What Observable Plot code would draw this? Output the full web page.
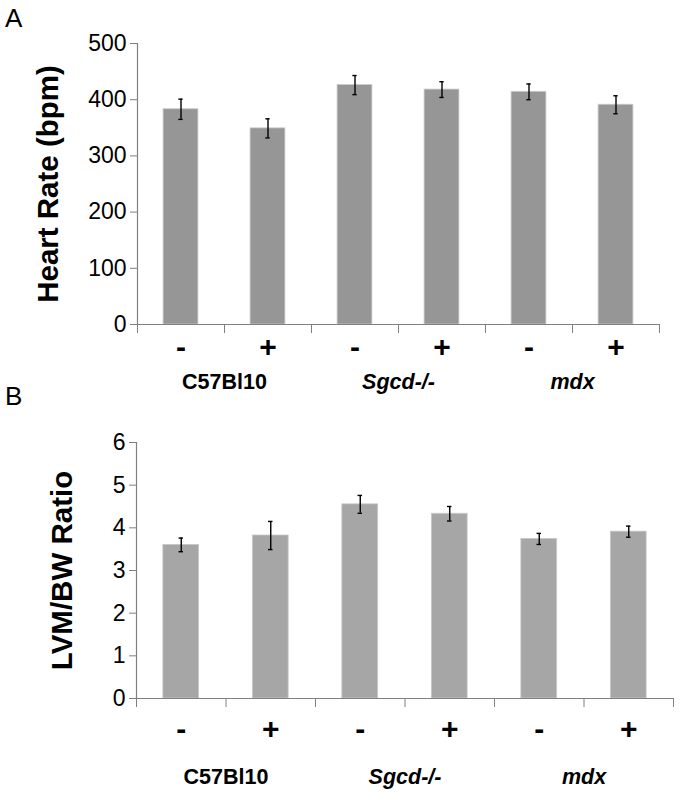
<!DOCTYPE html>
<html>
<head>
<meta charset="utf-8">
<script src="https://cdn.jsdelivr.net/npm/d3@7"></script>
<script src="https://cdn.jsdelivr.net/npm/@observablehq/plot@0.6"></script>
<style>
  body { margin: 0; background: #fff; font-family: "Liberation Sans", Arial, sans-serif; }
  #wrap { position: relative; width: 680px; height: 801px; }
  .panel-letter { position: absolute; left: 5px; font-size: 26px; line-height: 1; color: #000; }
  svg { display: block; overflow: visible; }
</style>
</head>
<body>
<div id="wrap">
  <div id="chartA"></div>
  <div id="chartB"></div>
  <div class="panel-letter" style="top:5px">A</div>
  <div class="panel-letter" style="top:383px">B</div>
</div>
<script>
// ---- data ----
const treatments = ["-", "+", "-", "+", "-", "+"];
const groups = ["C57Bl10", "Sgcd-/-", "mdx"];
const groupItalic = [false, true, true];

const heartRate = [383, 349, 426, 418, 414, 391];
const heartRateErr = [18, 17, 17, 14, 14, 16];
const heartTicks = [0, 100, 200, 300, 400, 500];

const lvmRatio = [3.60, 3.82, 4.55, 4.33, 3.74, 3.91];
const lvmRatioErr = [0.16, 0.33, 0.21, 0.17, 0.13, 0.13];
const lvmTicks = [0, 1, 2, 3, 4, 5, 6];

const boundaries = [0, 1, 2, 3, 4, 5, 6];

function panel({values, errs, yTicks, yMax, label, barColor, width, height, mLeft, mRight, mTop, mBottom, signDy, groupDy, titleDx}) {
  const rows = values.map((v, i) => ({i, v, e: errs[i], sign: treatments[i]}));
  const grp = groups.map((g, k) => ({k, g, italic: groupItalic[k]}));
  const font = "Liberation Sans, Arial, sans-serif";
  return Plot.plot({
    width, height,
    marginLeft: mLeft, marginRight: mRight, marginTop: mTop, marginBottom: mBottom,
    style: {fontFamily: font, background: "#fff", color: "#000", overflow: "visible"},
    x: {domain: [0, 6], axis: null},
    y: {domain: [0, yMax], axis: null},
    marks: [
      Plot.rectY(rows, {x1: d => d.i + 0.3, x2: d => d.i + 0.7, y1: 0, y2: "v", fill: barColor, stroke: "#c8c8c8", strokeWidth: 0.8}),
      Plot.ruleX(rows, {x: d => d.i + 0.5, y1: d => d.v - d.e, y2: d => d.v + d.e, stroke: "#000", strokeWidth: 1.4}),
      Plot.ruleY(rows, {y: d => d.v + d.e, x1: d => d.i + 0.5 - 0.025, x2: d => d.i + 0.5 + 0.025, stroke: "#000", strokeWidth: 1.4}),
      Plot.ruleY(rows, {y: d => d.v - d.e, x1: d => d.i + 0.5 - 0.025, x2: d => d.i + 0.5 + 0.025, stroke: "#000", strokeWidth: 1.4}),
      Plot.ruleY([0], {stroke: "#808080", strokeWidth: 1.2}),
      Plot.ruleX([0], {stroke: "#808080", strokeWidth: 1.2}),
      Plot.axisY({ticks: yTicks, tickSize: 7, tickPadding: 4, label: null, fontSize: 23, stroke: "#808080", tickFormat: d => String(d), color: "#000"}),
      Plot.axisX({ticks: boundaries, tickSize: 9, tickFormat: () => "", label: null, stroke: "#808080"}),
      Plot.text(rows, {x: d => d.i + 0.5, text: "sign", frameAnchor: "bottom", dy: signDy, fontSize: 30, fontWeight: "bold", fill: "#000"}),
      Plot.text(grp.filter(d => !d.italic), {x: d => 2 * d.k + 1, text: "g", frameAnchor: "bottom", dy: groupDy, fontSize: 21.5, fontWeight: "bold", fill: "#000"}),
      Plot.text(grp.filter(d => d.italic), {x: d => 2 * d.k + 1, text: "g", frameAnchor: "bottom", dy: groupDy, fontSize: 21.5, fontWeight: "bold", fontStyle: "italic", fill: "#000"}),
      Plot.text([label], {frameAnchor: "left", textAnchor: "middle", text: d => d, rotate: -90, dx: titleDx, fontSize: 29.5, fontWeight: "bold", fill: "#000"})
    ]
  });
}

document.getElementById("chartA").appendChild(panel({
  values: heartRate, errs: heartRateErr, yTicks: heartTicks, yMax: 500,
  label: "Heart Rate (bpm)", barColor: "#969696",
  width: 680, height: 400, mLeft: 137, mRight: 21, mTop: 43, mBottom: 76,
  signDy: 32, groupDy: 64, titleDx: -89
}));

document.getElementById("chartB").appendChild(panel({
  values: lvmRatio, errs: lvmRatioErr, yTicks: lvmTicks, yMax: 6,
  label: "LVM/BW Ratio", barColor: "#a6a6a6",
  width: 680, height: 401, mLeft: 136, mRight: 7, mTop: 42, mBottom: 103,
  signDy: 40, groupDy: 85, titleDx: -74
}));
</script>
</body>
</html>
